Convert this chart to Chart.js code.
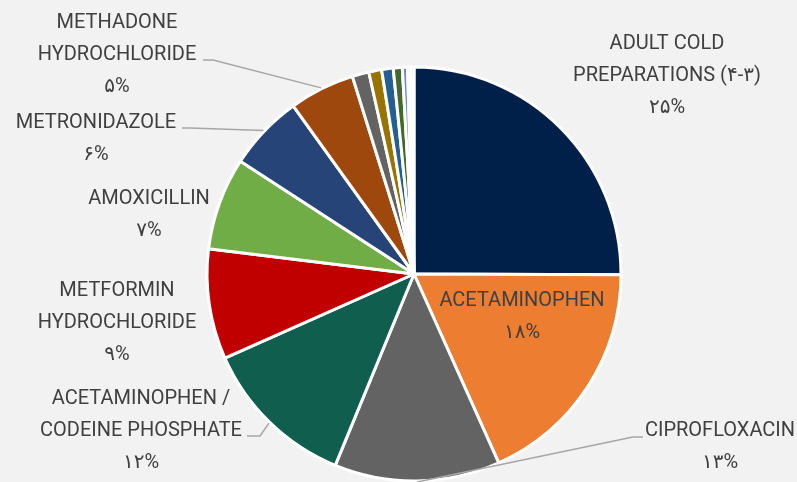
<!DOCTYPE html>
<html>
<head>
<meta charset="utf-8">
<script src="https://cdn.jsdelivr.net/npm/chart.js@4/dist/chart.umd.min.js"></script>
<style>
  html, body { margin: 0; padding: 0; background: #f2f2f2; }
  #wrap { width: 797px; height: 482px; }
</style>
</head>
<body>
<div id="wrap"><canvas id="myChart" width="797" height="482"></canvas></div>
<script>
// categories in drawing order (clockwise from 12 o'clock)
const categories = [
  'ADULT COLD PREPARATIONS (۴-۳)',
  'ACETAMINOPHEN',
  'CIPROFLOXACIN',
  'ACETAMINOPHEN / CODEINE PHOSPHATE',
  'METFORMIN HYDROCHLORIDE',
  'AMOXICILLIN',
  'METRONIDAZOLE',
  'METHADONE HYDROCHLORIDE',
  'OTHER 1', 'OTHER 2', 'OTHER 3', 'OTHER 4', 'OTHER 5', 'OTHER 6', 'OTHER 7'
];
// share of prescriptions, %
const shares = [25.0, 18.2, 12.9, 12.1, 8.6, 7.2, 5.9, 5.1, 1.3, 1.0, 0.9, 0.7, 0.4, 0.25, 0.25];
const sliceColors = [
  '#00204a', '#ed7d31', '#636363', '#0f5e4e', '#c00000', '#70ad47', '#264478', '#9e480e',
  '#636363', '#997300', '#255e91', '#43682b', '#698ed0', '#f1975a', '#b7b7b7'
];
// how each visible label is broken into lines
const labelLines = [
  ['ADULT COLD', 'PREPARATIONS (۴-۳)'],
  ['ACETAMINOPHEN'],
  ['CIPROFLOXACIN'],
  ['ACETAMINOPHEN /', 'CODEINE PHOSPHATE'],
  ['METFORMIN', 'HYDROCHLORIDE'],
  ['AMOXICILLIN'],
  ['METRONIDAZOLE'],
  ['METHADONE', 'HYDROCHLORIDE']
];

// where the label text sits and the leader elbow (if any)
const labelAnchors = [
  { x: 667, y: 49 },
  { x: 522, y: 306 },
  { x: 720, y: 436, leader: [[633, 437], [643, 437]] },
  { x: 141, y: 404, leader: [[260, 436], [247, 436]] },
  { x: 117, y: 296 },
  { x: 149, y: 203.5 },
  { x: 96, y: 128, leader: [[190, 128], [182, 128]] },
  { x: 117, y: 27.5, leader: [[213, 60], [203, 60]] }
];

const faDigits = '۰۱۲۳۴۵۶۷۸۹';
const toFa = n => String(n).replace(/\d/g, d => faDigits[d]);

const pieLabels = {
  id: 'pieLabels',
  afterDatasetsDraw(chart) {
    const ctx = chart.ctx;
    const meta = chart.getDatasetMeta(0);
    const total = shares.reduce((a, b) => a + b, 0);
    ctx.save();
    labelAnchors.forEach((a, i) => {
      const arc = meta.data[i];
      if (a.leader) {
        const mid = (arc.startAngle + arc.endAngle) / 2;
        const r = arc.outerRadius + 1;
        ctx.beginPath();
        ctx.moveTo(arc.x + Math.cos(mid) * r, arc.y + Math.sin(mid) * r);
        a.leader.forEach(p => ctx.lineTo(p[0], p[1]));
        ctx.strokeStyle = '#a6a6a6';
        ctx.lineWidth = 1.5;
        ctx.stroke();
      }
      const lines = labelLines[i].concat([toFa(Math.round(shares[i] / total * 100)) + '%']);
      ctx.fillStyle = '#404040';
      ctx.font = '20px Roboto, "DejaVu Sans", sans-serif';
      ctx.textAlign = 'center';
      ctx.textBaseline = 'alphabetic';
      lines.forEach((t, k) => ctx.fillText(t, a.x, a.y + k * 32));
    });
    ctx.restore();
  }
};

const ctx = document.getElementById('myChart').getContext('2d');
const myChart = new Chart(ctx, {
  type: 'pie',
  data: {
    labels: categories,
    datasets: [{
      data: shares,
      backgroundColor: sliceColors,
      borderColor: '#ffffff',
      borderWidth: 3
    }]
  },
  options: {
    responsive: false,
    animation: false,
    radius: 207,
    layout: { padding: { left: 31, right: 0, top: 66, bottom: 0 } },
    plugins: {
      legend: { display: false },
      tooltip: { enabled: false }
    }
  },
  plugins: [pieLabels]
});
</script>
</body>
</html>
